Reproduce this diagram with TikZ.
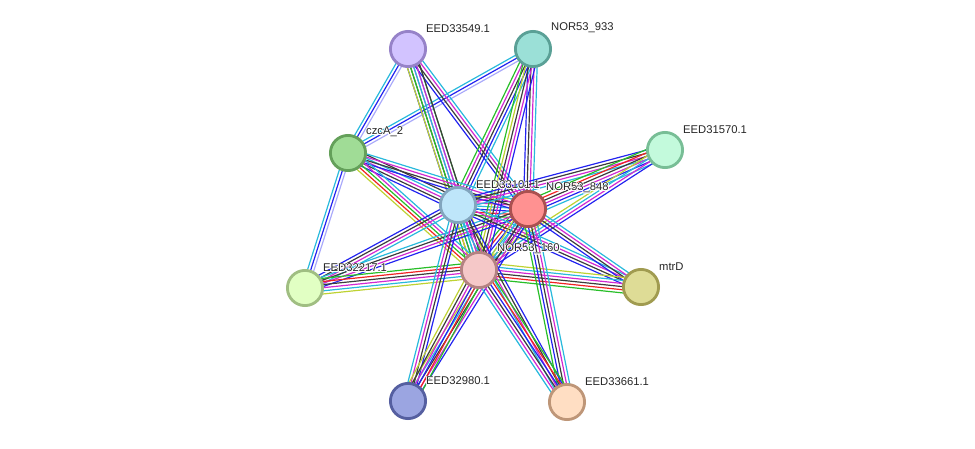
\documentclass[tikz,border=0pt]{standalone}
\usepackage{fontspec}
\setmainfont{Liberation Sans}
\usepackage{contour}
\contourlength{0.5pt}
\contournumber{12}
\usetikzlibrary{calc}
\pgfdeclarelayer{bg}
\pgfsetlayers{bg,main}

% evidence colours
\definecolor{cdb}{RGB}{40,185,220}
\definecolor{cexp}{RGB}{210,40,210}
\definecolor{cnbh}{RGB}{40,190,40}
\definecolor{cfus}{RGB}{240,35,35}
\definecolor{cocc}{RGB}{35,35,240}
\definecolor{ccoex}{RGB}{60,60,60}
\definecolor{ctxt}{RGB}{190,210,50}
\definecolor{chom}{RGB}{170,170,250}

% #1,#2 nodes, #3 number of lines, #4 colours
\newcommand{\bundle}[4]{%
  \foreach \c [count=\i] in {#4} {
    \pgfmathsetmacro{\off}{(\i-(#3+1)/2)*0.078}
    \draw[\c, line width=0.85pt] ($(#1)!\off cm!90:(#2)$) -- ($(#2)!\off cm!-90:(#1)$);
  }}

\begin{document}
\begin{tikzpicture}[x=0.025cm, y=-0.025cm,
    prot/.style={circle, line width=2pt, minimum size=0.88cm, inner sep=0pt},
    lbl/.style={font=\fontsize{8}{10}\selectfont, text=black!85, inner sep=0pt, xshift=0.11cm, yshift=0.04cm}]
    \useasboundingbox (0,0) rectangle (975,448);

    % Proteinas
    \node[prot, fill={rgb,255:red,210;green,195;blue,255}, draw={rgb,255:red,150;green,130;blue,200}, label={[lbl]north east:\contour{white}{EED33549.1}}] (e33549) at (408,49) {};
    \node[prot, fill={rgb,255:red,155;green,224;blue,215}, draw={rgb,255:red,90;green,160;blue,150}, label={[lbl]north east:\contour{white}{NOR53\_933}}] (n933) at (533,49) {};
    \node[prot, fill={rgb,255:red,160;green,220;blue,150}, draw={rgb,255:red,100;green,160;blue,90}, label={[lbl]north east:\contour{white}{czcA\_2}}] (czcA) at (348,153) {};
    \node[prot, fill={rgb,255:red,195;green,250;blue,220}, draw={rgb,255:red,120;green,190;blue,150}, label={[lbl]north east:\contour{white}{EED31570.1}}] (e31570) at (665,150) {};
    \node[prot, fill={rgb,255:red,190;green,230;blue,250}, draw={rgb,255:red,130;green,165;blue,190}, label={[lbl]north east:\contour{white}{EED33101.1}}] (e33101) at (458,205) {};
    \node[prot, fill={rgb,255:red,255;green,145;blue,145}, draw={rgb,255:red,170;green,80;blue,80}, label={[lbl]north east:\contour{white}{NOR53\_848}}] (n848) at (528,209) {};
    \node[prot, fill={rgb,255:red,245;green,200;blue,200}, draw={rgb,255:red,180;green,130;blue,130}, label={[lbl]north east:\contour{white}{NOR53\_160}}] (n160) at (479,270) {};
    \node[prot, fill={rgb,255:red,225;green,255;blue,195}, draw={rgb,255:red,160;green,190;blue,130}, label={[lbl]north east:\contour{white}{EED32217.1}}] (e32217) at (305,288) {};
    \node[prot, fill={rgb,255:red,222;green,220;blue,150}, draw={rgb,255:red,160;green,155;blue,80}, label={[lbl]north east:\contour{white}{mtrD}}] (mtrD) at (641,287) {};
    \node[prot, fill={rgb,255:red,155;green,165;blue,225}, draw={rgb,255:red,85;green,95;blue,160}, label={[lbl]north east:\contour{white}{EED32980.1}}] (e32980) at (408,401) {};
    \node[prot, fill={rgb,255:red,255;green,222;blue,195}, draw={rgb,255:red,190;green,150;blue,120}, label={[lbl]north east:\contour{white}{EED33661.1}}] (e33661) at (567,402) {};

    % Arestas
    \begin{pgfonlayer}{bg}
    \bundle{e33549}{czcA}{3}{cdb,cocc,chom}
    \bundle{czcA}{e32217}{3}{cdb,cocc,chom}
    \bundle{czcA}{n933}{3}{chom,cocc,cdb}

    \bundle{e33101}{n848}{7}{cnbh,cfus,cocc,cdb,cexp,ccoex,ctxt}
    \bundle{e33101}{n160}{7}{cnbh,cfus,cocc,cdb,cexp,ccoex,ctxt}
    \bundle{n848}{n160}{7}{cnbh,cfus,cocc,cdb,cexp,ccoex,ctxt}

    \bundle{e33549}{e33101}{5}{cocc,ccoex,cexp,cdb,cnbh}
    \bundle{e33549}{n848}{4}{cocc,ccoex,cexp,cdb}
    \bundle{e33549}{n160}{5}{ctxt,cnbh,cdb,cexp,ccoex}

    \bundle{n933}{e33101}{5}{cnbh,cexp,ccoex,cocc,cdb}
    \bundle{n933}{n848}{4}{cocc,ccoex,cexp,cdb}
    \bundle{n933}{n160}{5}{cnbh,ctxt,ccoex,cexp,cocc}

    \bundle{czcA}{e33101}{5}{cocc,ccoex,cexp,cdb,ccoex}
    \bundle{czcA}{n848}{4}{cocc,ccoex,cexp,cdb}
    \bundle{czcA}{n160}{5}{ctxt,cfus,cnbh,cexp,cdb}

    \bundle{e31570}{e33101}{4}{cocc,ccoex,cexp,cdb}
    \bundle{e31570}{n848}{6}{cnbh,cfus,ccoex,cexp,cocc,cdb}
    \bundle{e31570}{n160}{4}{ctxt,cdb,cexp,cocc}

    \bundle{e32217}{e33101}{4}{cdb,cexp,ccoex,cocc}
    \bundle{e32217}{n848}{4}{cocc,cexp,ccoex,cdb}
    \bundle{e32217}{n160}{6}{ctxt,cdb,cexp,ccoex,cfus,cnbh}

    \bundle{mtrD}{e33101}{4}{cdb,cexp,ccoex,cocc}
    \bundle{mtrD}{n848}{4}{cdb,cexp,ccoex,cocc}
    \bundle{mtrD}{n160}{6}{ctxt,cdb,cexp,ccoex,cfus,cnbh}

    \bundle{e32980}{e33101}{4}{cocc,ccoex,cexp,cdb}
    \bundle{e32980}{n848}{5}{cocc,cexp,ccoex,cdb,ctxt}
    \bundle{e32980}{n160}{6}{cnbh,cfus,cocc,cexp,ccoex,ctxt}

    \bundle{e33661}{e33101}{4}{cocc,ccoex,cexp,cdb}
    \bundle{e33661}{n848}{5}{cdb,cexp,ccoex,cocc,cnbh}
    \bundle{e33661}{n160}{6}{cnbh,cfus,cocc,ccoex,cexp,cdb}
    \end{pgfonlayer}
\end{tikzpicture}
\end{document}
